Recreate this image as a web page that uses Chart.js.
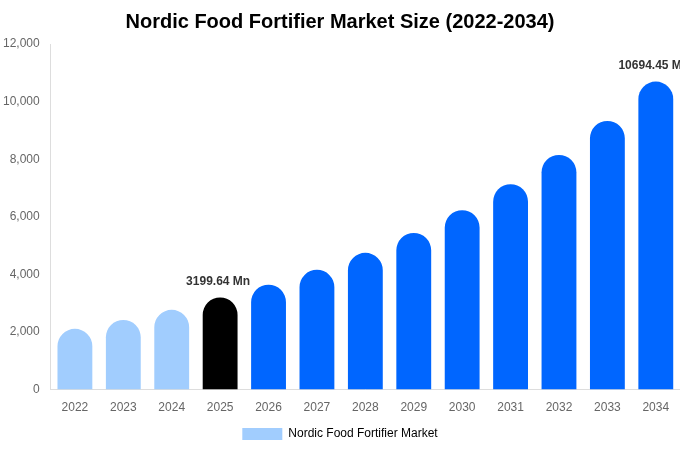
<!doctype html>
<html>
<head>
<title>Nordic Food Fortifier Market Size</title>
<script src="https://cdn.jsdelivr.net/npm/chart.js@4.4.0/dist/chart.umd.min.js"></script>
<style>
    html, body { margin: 0; padding: 0; background: #fff; }
    #wrap { width: 680px; height: 450px; }
</style>
</head>
<body>
<div id="wrap"><canvas id="chart"></canvas></div>
<script>
    const years = ['2022', '2023', '2024', '2025', '2026', '2027', '2028', '2029', '2030', '2031', '2032', '2033', '2034'];
    const marketSize = [2110, 2420, 2770, 3199.64, 3640, 4160, 4750, 5440, 6230, 7130, 8150, 9330, 10694.45];
    const yTicks = [0, 2000, 4000, 6000, 8000, 10000, 12000];
    const labelled = { 3: '3199.64 Mn', 12: '10694.45 Mn' };

    const barColors = years.map((y, i) => i < 3 ? '#a1cdfe' : (i === 3 ? '#000000' : '#0066ff'));

    // draws the value text above the highlighted bars
    const valueLabels = {
        id: 'valueLabels',
        afterDatasetsDraw(chart) {
            const ctx = chart.ctx;
            const meta = chart.getDatasetMeta(0);
            ctx.save();
            ctx.font = 'bold 12px "Liberation Sans", Arial, sans-serif';
            ctx.fillStyle = '#333333';
            ctx.textAlign = 'center';
            ctx.textBaseline = 'bottom';
            Object.keys(labelled).forEach(k => {
                const bar = meta.data[k];
                ctx.fillText(labelled[k], bar.x - 2, bar.y - 10);
            });
            ctx.restore();
        }
    };

    const ctx = document.getElementById('chart');
    new Chart(ctx, {
        type: 'bar',
        data: {
            labels: years,
            datasets: [{
                label: 'Nordic Food Fortifier Market',
                data: marketSize,
                backgroundColor: barColors,
                borderRadius: 40,
                borderSkipped: 'bottom'
            }]
        },
        options: {
            responsive: true,
            maintainAspectRatio: false,
            animation: false,
            layout: { padding: { top: 0, right: 0, left: 0, bottom: 0 } },
            plugins: {
                title: {
                    display: true,
                    text: 'Nordic Food Fortifier Market Size (2022-2034)',
                    color: '#000',
                    font: { size: 20, weight: 'bold', family: '"Liberation Sans", Arial, sans-serif' },
                    padding: { top: 10, bottom: 10 }
                },
                legend: {
                    position: 'bottom',
                    labels: {
                        boxWidth: 40,
                        boxHeight: 12,
                        color: '#666',
                        font: { size: 12, family: '"Liberation Sans", Arial, sans-serif' },
                        generateLabels: () => [{
                            text: 'Nordic Food Fortifier Market',
                            fillStyle: '#a1cdfe',
                            strokeStyle: '#a1cdfe',
                            lineWidth: 0,
                            datasetIndex: 0
                        }]
                    }
                },
                tooltip: { enabled: false }
            },
            scales: {
                x: {
                    grid: { display: false },
                    border: { color: '#dddddd' },
                    ticks: { color: '#666', font: { size: 12, family: '"Liberation Sans", Arial, sans-serif' } }
                },
                y: {
                    min: 0,
                    max: 12000,
                    afterBuildTicks: axis => { axis.ticks = yTicks.map(v => ({ value: v })); },
                    grid: { display: false },
                    border: { color: '#dddddd' },
                    ticks: {
                        color: '#666',
                        font: { size: 12, family: '"Liberation Sans", Arial, sans-serif' },
                        callback: v => v.toLocaleString('en-US')
                    }
                }
            }
        },
        plugins: [valueLabels]
    });
</script>
</body>
</html>
